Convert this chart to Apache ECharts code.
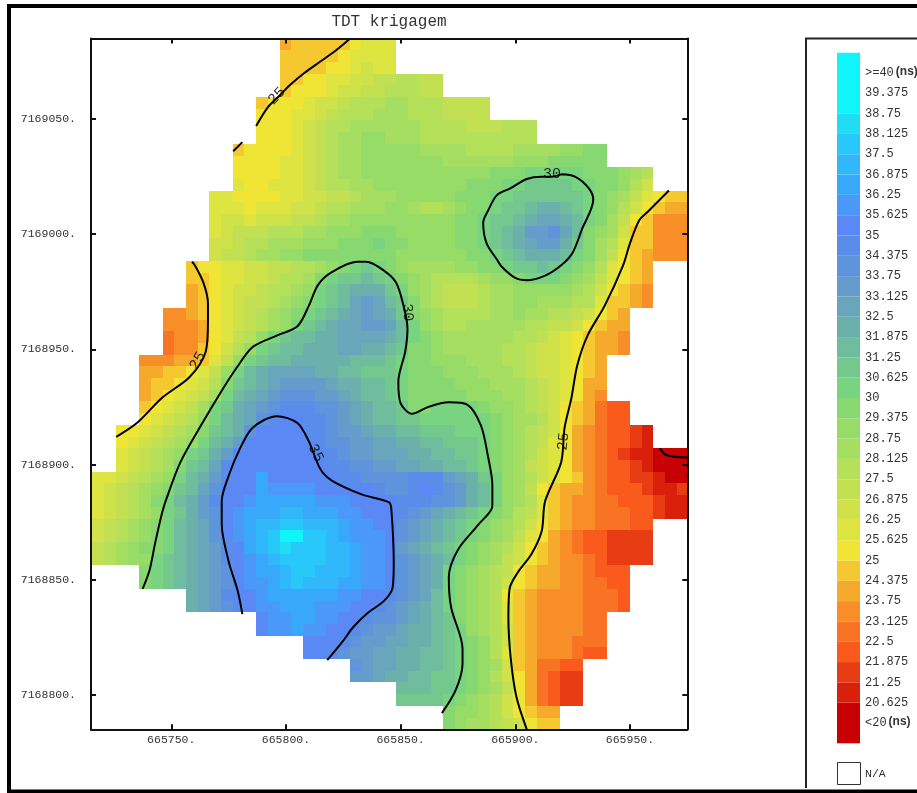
<!DOCTYPE html>
<html><head><meta charset="utf-8">
<script src="https://cdn.jsdelivr.net/npm/echarts@6/dist/echarts.min.js"></script>
<style>html,body{margin:0;padding:0;background:#fff}#c{width:917px;height:793px}</style>
</head><body><div id="c"></div><script>
const titleText = 'TDT krigagem';
const xTicks = [665750,665800,665850,665900,665950];
const yTicks = [7168800,7168850,7168900,7168950,7169000,7169050];
const legendTicks = [40,39.375,38.75,38.125,37.5,36.875,36.25,35.625,35,34.375,33.75,33.125,32.5,31.875,31.25,30.625,30,29.375,28.75,28.125,27.5,26.875,26.25,25.625,25,24.375,23.75,23.125,22.5,21.875,21.25,20.625,20];
const legendText = ['>=40','39.375','38.75','38.125','37.5','36.875','36.25','35.625','35','34.375','33.75','33.125','32.5','31.875','31.25','30.625','30','29.375','28.75','28.125','27.5','26.875','26.25','25.625','25','24.375','23.75','23.125','22.5','21.875','21.25','20.625','<20'];
// class letters, lowest to highest
const levelKeys = 'abcdefghijklmnopqrstuvwxyzABCDE';
const levelFloors = [19.375,20.625,21.25,21.875,22.5,23.125,23.75,24.375,25,25.625,26.25,26.875,27.5,28.125,28.75,29.375,30,30.625,31.25,31.875,32.5,33.125,33.75,34.375,35,35.625,36.25,36.875,37.5,38.125,38.75];
const levelColors = ['#C80004','#D8200A','#E83C14','#FA5A1C','#F87424','#F78E28','#F5AA2C','#F4C82E','#F0E435','#DEE440','#D0E24A','#C2E052','#B4E05A','#A6DE62','#98DC68','#88D872','#78D480','#74C88E','#70BC9E','#6CB0AC','#68A6BC','#649CCC','#5E94DC','#5A8CEA','#5A88F5','#4A98F8','#38A8FA','#30B8FA','#28C8FA','#20DCF5','#10F5FA'];
// TDT class of each grid cell, row by row from the top ('.' = N/A)
const gridRows = [
'.......... ......ghhh hhijjj.... .......... .......... .',
'.......... ......hhhh hijjjj.... .......... .......... .',
'.......... ......hhhh iijkjj.... .......... .......... .',
'.......... ......hhii jjkkllmmll .......... .......... .',
'.......... ......hiii jkkllmmmll .......... .......... .',
'.......... ....hiiijk klmmmnnmmm llll...... .......... .',
'.......... ....iiijjk lmmmnnnmmm llll...... .......... .',
'.......... ....iiijkl mmnnnnnnmm mmlllmmm.. .......... .',
'.......... ....iiijkl mnnoonnnmm mmmmmmmm.. .......... .',
'.......... ..hiiiijkl mnnooooonn nnmmmmnnnn oopp...... .',
'.......... ..iiiijjkl mnnooooooo nnnnnnooop pppp...... .',
'.......... ..iiiijjkl mnnooooooo oooopppqqq qqppponm.. .',
'.......... ..jiijjjkl mmnnoooooo oopppqqrrr rqqppomk.. .',
'.......... jjiiiijjkk llmnnnoooo opppqqrrrr rrqponljih h',
'.......... jjjijjjkkl mmnnnoonmm noppqrrstt srqpomkihg g',
'.......... jkkjkkkllm nnoooooooo oppqrrstuu tsqpnlihff f',
'.......... jklllmmmnn ooopppoooo oppqrstvvw usponkhhff f',
'.......... kklmmnnnoo opppqppooo oppqrstuvv trpnmjhhff f',
'.......... kllmnnoopp ppppppoooo ooppqrsttt sqpnlihgff f',
'........hi ijjkkllmmn opqrqponnn nooppqrrsr qpomjihg.. .',
'........hh ijjkklmmnp qrrsrqponm mmmnoopqqq ponljihg.. .',
'........gh ijkklmmnoq rstttrqonm lllmnnoooo onmkihgf.. .',
'........gh ijkllmnopq rsuvusrpnm lllmnnoonn nmmjhhgf.. .',
'......ffgh ijklmnopqr stuvutrpon mmmmnnonnm mlkihg.... .',
'......fffg ijklmnoqrs tuuvvusqon mmnnnnnmml lkihgg.... .',
'......effg ijlmoqrsst tuuuutsqpo nnnnnnmmlk jihggf.... .',
'......effh ikmoqrsstt tuuttsrppo nnnnnmmlkk jihggf.... .',
'....fffggh jloqrssttt ttsssrqppo oonnnmmlkk jihg...... .',
'....gghhij loqstuuuut tssrrrqppp ooonnnmlkk jihg...... .',
'....ghhijk mprstuvvvv uttssrqppp pooonnnmlk jigg...... .',
'....ghijkl nqstuvwwwv vutssrqppp ppooonnmlk jigf...... .',
'....hijkln qrtuvwxxxw wvutssrppq qqqpoonmlk ihgedd.... .',
'....ijklmo qstuwxyyxx wvutssrrqq qqqqponnmk ihgedd.... .',
'..iijklmnp rstwyyyyxx wvvuttssrr rqqqponmlk igfeddcb.. .',
'..ijklmnoq stvyyyyyyx wwvvuuttss rrrqponmlj igfeddcb.. .',
'..jklmnoqr tvyyyyyyyx xwvvuuutts srrqponmkj igfedcbbaa a',
'..jklmnprs uxyyyyyyyy xxwwvvuutt ssrqponlkj igfeddcbaa a',
'jjklmnoqst vxyyAyyyyy yxxwwwwxxx vutrqonmkj ihfeddccba a',
'jklmnoprsu wyyyAzzzzy yyyyxwwxyx wvtsqonlih ggfedddcbb c',
'jklmnpqstv xyyzAAAAAz zzyyyyxxxw wvtsqonmjh gffeedddcb b',
'jklmnoqrtv wyzAAABBAA Azzyyyxwvu tsrqpomljh gffeeeddcb b',
'klmnopqstu wyzABBCCBB BAzzyywvut srqponmkih gffeeedd.. .',
'klmnopqstu wyzABCEECC BAzzzywvut srqponljig feddcccc.. .',
'lmnoppqstu vxyABCDCCC BBAzzyvuts rqponmkihg feddcccc.. .',
'lmnooqrstu vxyzABCCCC BBAzzywvut sqponlkihg ffedcccc.. .',
'....pqrstu vwyzAABCCB BBAzzywvut qponmlihgg ffeddd.... .',
'....pqrstu vwyzzABCBB BAAzzywvut qponmkihgg ffeedd.... .',
'........tu vxyyzAAAAA Azzyyxwvus qponmihgff ffeeed.... .',
'........tu vwxyzzAAAz zzyyxwvuts qponmjhgff ffeeed.... .',
'.......... ....yzzAAz zyyxwwvuts rponmjhgff ffee...... .',
'.......... ....yzzAzz yyxwvvutts rqonmkhgff ffee...... .',
'.......... ........yy yxwvvuutts rqpomkhgff feee...... .',
'.......... ........yy xwvvuuttss rqpomjhgff fedd...... .',
'.......... .......... ..wvuuttss rqponkhgee dd........ .',
'.......... .......... ..vvuttssr rqpomkiged cc........ .',
'.......... .......... ......sssr rqponliged cc........ .',
'.......... .......... ......rrrr qponmkiged cc........ .',
'.......... .......... .......... poonmkihgg .......... .',
'.......... .......... .......... ponnmlkihh .......... .'
];
// contour lines as [easting, northing]
const contour25a = [[665828,7169085],[665822,7169080],[665815,7169075],[665808,7169070],[665802,7169065],[665797,7169060],[665792,7169055],[665787,7169047]];
const contour25b = [[665777,7169036],[665781,7169040]];
const contour25c = [[665759,7168988],[665760,7168987],[665764,7168979],[665766,7168970],[665766,7168962],[665765,7168949],[665758,7168938],[665746,7168929],[665735,7168918],[665726,7168912]];
const contour25d = [[665967,7169019],[665958,7169010],[665954,7169006],[665950,7168996],[665947,7168986.5],[665939,7168969],[665931.5,7168956],[665927,7168943],[665924.5,7168929],[665921.5,7168916],[665920,7168901],[665913,7168884],[665911.5,7168871],[665907,7168861],[665901,7168853],[665897.5,7168846],[665897,7168833.5],[665898,7168816],[665900.5,7168799],[665905,7168785]];
const contour30a = [[665737.5,7168846],[665740.5,7168854],[665743,7168866],[665746,7168879],[665747.5,7168884],[665754,7168901],[665763,7168917],[665772,7168932],[665778.5,7168942],[665785.5,7168951],[665796,7168956],[665805,7168960],[665810,7168969],[665814,7168978],[665820,7168983.5],[665831,7168988],[665835,7168988],[665843,7168984],[665848,7168979],[665851,7168970],[665853,7168959],[665852,7168949],[665849,7168936],[665850,7168926.5],[665855,7168922],[665862,7168925],[665871,7168927],[665879,7168926],[665885,7168917],[665888,7168904],[665890,7168891],[665890,7168882],[665884,7168874],[665875,7168863],[665871,7168851],[665872,7168838],[665877,7168820],[665877,7168813.5],[665874,7168802],[665868,7168792]];
const contour30b = [[665920,7169026],[665926,7169025],[665932,7169020],[665934,7169015],[665929,7169002],[665925,7168992],[665920,7168986.5],[665913,7168982],[665905,7168980],[665900,7168981],[665894,7168986],[665892,7168989],[665887.5,7168996],[665886,7169005],[665888,7169010],[665892,7169017],[665898,7169020],[665905,7169024],[665911.5,7169025],[665916,7169025],[665920,7169026]];
const contour35a = [[665781,7168835],[665779,7168845],[665775,7168858],[665772,7168874],[665772,7168884],[665775,7168895],[665780,7168907],[665785.5,7168916],[665796,7168921],[665805,7168918],[665810,7168910],[665815,7168898],[665820,7168893],[665833,7168887],[665845,7168883.5],[665846,7168880],[665847,7168857],[665846.5,7168846.5],[665843,7168841],[665835,7168835],[665829,7168829],[665825,7168823.5],[665818,7168815]];
const contour20a = [[665963,7168907],[665966,7168904],[665975,7168903]];
const contourLabelText = ['25','30','25','30','35','25'];
const contourLabelPos = [[665796,7169060],[665916,7169026],[665761.5,7168945],[665853,7168966],[665813,7168905],[665921,7168910]];
const contourLabelAngle = [45,0,60,-85,-65,85];

const xMin=665715, xMax=665975, yMin=7168785, yMax=7169085;
const cellW=5.094, cellH=300/59, xFirstEdge=665715.7;
const mono='"Liberation Mono","DejaVu Sans Mono",monospace';
const ink='#333';

const cells=[];
gridRows.forEach((raw,r)=>{
  const row=raw.replace(/ /g,'');
  for(let c=0;c<row.length;c++){
    const k=levelKeys.indexOf(row[c]);
    if(k<0) continue;
    cells.push([xFirstEdge+c*cellW,yMax-r*cellH,levelFloors[k],k,c]);
  }
});
const legendBand=levelFloors.map((lo,i)=>[lo,i<levelFloors.length-1?levelFloors[i+1]:40.625,i]);

function cellItem(p,api){
  const col=api.value(4), xl=api.value(0), yt=api.value(1);
  const a=api.coord([col===0?xMin:xl,yt]), b=api.coord([Math.min(xl+cellW,xMax),Math.max(yt-cellH,yMin)]);
  const x0=Math.round(a[0]),y0=Math.round(a[1]),x1=Math.round(b[0]),y1=Math.round(b[1]);
  return {type:'rect',shape:{x:x0,y:y0,width:x1-x0,height:y1-y0},style:{fill:levelColors[api.value(3)]}};
}
function bandItem(p,api){
  const g=p.coordSys;
  const a=api.coord([0,api.value(1)]), b=api.coord([0,api.value(0)]);
  return {type:'rect',shape:{x:g.x,y:a[1],width:g.width,height:b[1]-a[1]},style:{fill:levelColors[api.value(2)]}};
}
const contourLine=d=>({type:'line',data:d,xAxisIndex:0,yAxisIndex:0,symbol:'none',smooth:0.3,z:5,silent:true,lineStyle:{color:'#000',width:2},clip:true});
const axisBase={z:6,axisLine:{show:true,onZero:false,lineStyle:{color:'#111',width:2}},splitLine:{show:false}};

const chart=echarts.init(document.getElementById('c'),null,{renderer:'canvas'});
chart.setOption({
  animation:false,backgroundColor:'#fff',
  title:{text:titleText,left:384,top:9,textAlign:'center',textStyle:{fontFamily:mono,fontSize:16,fontWeight:'normal',color:ink}},
  grid:[{left:91,top:38.5,width:596.3,height:690.8,outerBoundsMode:'none'},{left:837,top:52.7,width:23,height:690.6,outerBoundsMode:'none'}],
  xAxis:[
    Object.assign({},axisBase,{type:'value',gridIndex:0,position:'bottom',min:xMin,max:xMax,
      axisTick:{inside:true,length:5,customValues:xTicks,lineStyle:{color:'#111',width:2}},
      axisLabel:{customValues:xTicks,formatter:v=>v+'.',fontFamily:mono,fontSize:11.5,color:ink,margin:5}}),
    Object.assign({},axisBase,{type:'value',gridIndex:0,position:'top',min:xMin,max:xMax,
      axisTick:{inside:true,length:5,customValues:xTicks,lineStyle:{color:'#111',width:2}},axisLabel:{show:false}}),
    {type:'value',gridIndex:1,min:0,max:1,show:false}
  ],
  yAxis:[
    Object.assign({},axisBase,{type:'value',gridIndex:0,position:'left',min:yMin,max:yMax,
      axisTick:{inside:true,length:5,customValues:yTicks,lineStyle:{color:'#111',width:2}},
      axisLabel:{customValues:yTicks,formatter:v=>v+'.',fontFamily:mono,fontSize:11.5,color:ink,margin:15}}),
    Object.assign({},axisBase,{type:'value',gridIndex:0,position:'right',min:yMin,max:yMax,
      axisTick:{inside:true,length:5,customValues:yTicks,lineStyle:{color:'#111',width:2}},axisLabel:{show:false}}),
    {type:'value',gridIndex:1,position:'right',min:19.375,max:40.625,z:6,
      axisLine:{show:false},axisTick:{show:false},splitLine:{show:false},
      axisLabel:{customValues:legendTicks,margin:5,align:'left',fontFamily:mono,fontSize:12,color:ink,
        formatter:v=>{const t=legendText[legendTicks.indexOf(v)];return (v===40||v===20)?'{a|'+t+'}{b|(ns)}':t;},
        rich:{a:{fontFamily:mono,fontSize:12,color:ink},b:{fontFamily:'"Liberation Sans",sans-serif',fontWeight:'bold',fontSize:12,color:ink,padding:[0,0,2,2]}}}}
  ],
  series:[
    {type:'custom',xAxisIndex:0,yAxisIndex:0,data:cells,renderItem:cellItem,clip:true,silent:true,progressive:0,z:2},
    contourLine(contour25a),contourLine(contour25b),contourLine(contour25c),contourLine(contour25d),
    contourLine(contour30a),contourLine(contour30b),contourLine(contour35a),contourLine(contour20a),
    {type:'scatter',xAxisIndex:0,yAxisIndex:0,symbolSize:0,z:7,silent:true,
      data:contourLabelPos.map((p,i)=>({value:p,label:{show:true,position:'inside',formatter:contourLabelText[i],rotate:contourLabelAngle[i],fontFamily:mono,fontSize:15,color:'#000'}}))},
    {type:'custom',xAxisIndex:2,yAxisIndex:2,data:legendBand,renderItem:bandItem,silent:true,progressive:0,z:2}
  ],
  graphic:[
    {type:'rect',shape:{x:9,y:6,width:930,height:785.5},style:{fill:'none',stroke:'#000',lineWidth:4},silent:true,z:20},
    {type:'polyline',shape:{points:[[806,788],[806,38.5],[917,38.5]]},style:{fill:'none',stroke:'#222',lineWidth:2},silent:true,z:20},
    {type:'rect',shape:{x:837.5,y:762.5,width:23,height:22},style:{fill:'#fff',stroke:'#333',lineWidth:1},silent:true,z:20},
    {type:'text',x:865,y:768,style:{text:'N/A',font:'11.5px '+mono,fill:ink},silent:true,z:20}
  ]
});
</script></body></html>
